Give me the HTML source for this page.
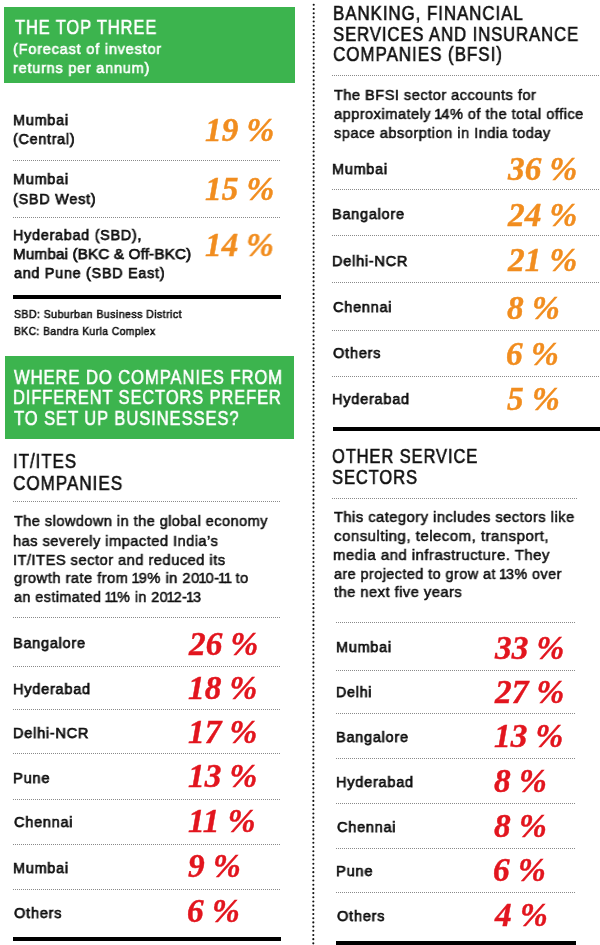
<!DOCTYPE html>
<html><head><meta charset="utf-8"><style>
html,body{margin:0;padding:0;background:#fff;width:600px;height:945px;overflow:hidden}
body{position:relative}
.t{position:absolute;white-space:nowrap;will-change:transform}
.o{margin:0 -0.1em}
.hd{position:absolute;height:1px;background:repeating-linear-gradient(90deg,#8a8a8a 0 1px,transparent 1px 2px)}
.vd{position:absolute;width:2px;background:repeating-linear-gradient(180deg,#111 0 2px,transparent 2px 4.2px)}
</style></head><body>
<div style="position:absolute;left:4px;top:7px;width:290.5px;height:75.7px;background:#3cb44e"></div>
<div style="position:absolute;left:4.5px;top:356.25px;width:289.75px;height:83px;background:#3cb44e"></div>
<div class="hd" style="left:12.5px;top:160.0px;width:268.5px"></div>
<div class="hd" style="left:12.5px;top:216.5px;width:268.5px"></div>
<div class="hd" style="left:12.5px;top:501.0px;width:268.5px"></div>
<div class="hd" style="left:12.5px;top:617.0px;width:268.5px"></div>
<div class="hd" style="left:12.5px;top:665.6px;width:268.5px"></div>
<div class="hd" style="left:12.5px;top:709.4px;width:268.5px"></div>
<div class="hd" style="left:12.5px;top:753.4px;width:268.5px"></div>
<div class="hd" style="left:12.5px;top:799.1px;width:268.5px"></div>
<div class="hd" style="left:12.5px;top:844.2px;width:268.5px"></div>
<div class="hd" style="left:12.5px;top:888.5px;width:268.5px"></div>
<div style="position:absolute;left:13px;top:295px;width:268px;height:4.25px;background:#000"></div>
<div style="position:absolute;left:13px;top:936.5px;width:268px;height:4.2px;background:#000"></div>
<svg style="position:absolute;left:0;top:0" width="600" height="945" fill="#111"><circle cx="313.70" cy="4.80" r="1.05"/><circle cx="313.70" cy="8.99" r="1.05"/><circle cx="313.70" cy="13.18" r="1.05"/><circle cx="313.69" cy="17.37" r="1.05"/><circle cx="313.69" cy="21.56" r="1.05"/><circle cx="313.69" cy="25.75" r="1.05"/><circle cx="313.69" cy="29.94" r="1.05"/><circle cx="313.69" cy="34.13" r="1.05"/><circle cx="313.69" cy="38.32" r="1.05"/><circle cx="313.68" cy="42.51" r="1.05"/><circle cx="313.68" cy="46.70" r="1.05"/><circle cx="313.68" cy="50.89" r="1.05"/><circle cx="313.68" cy="55.08" r="1.05"/><circle cx="313.68" cy="59.27" r="1.05"/><circle cx="313.68" cy="63.46" r="1.05"/><circle cx="313.67" cy="67.65" r="1.05"/><circle cx="313.67" cy="71.84" r="1.05"/><circle cx="313.67" cy="76.03" r="1.05"/><circle cx="313.67" cy="80.22" r="1.05"/><circle cx="313.67" cy="84.41" r="1.05"/><circle cx="313.66" cy="88.60" r="1.05"/><circle cx="313.66" cy="92.79" r="1.05"/><circle cx="313.66" cy="96.98" r="1.05"/><circle cx="313.66" cy="101.17" r="1.05"/><circle cx="313.66" cy="105.36" r="1.05"/><circle cx="313.66" cy="109.55" r="1.05"/><circle cx="313.65" cy="113.74" r="1.05"/><circle cx="313.65" cy="117.93" r="1.05"/><circle cx="313.65" cy="122.12" r="1.05"/><circle cx="313.65" cy="126.31" r="1.05"/><circle cx="313.65" cy="130.50" r="1.05"/><circle cx="313.64" cy="134.69" r="1.05"/><circle cx="313.64" cy="138.88" r="1.05"/><circle cx="313.64" cy="143.07" r="1.05"/><circle cx="313.64" cy="147.26" r="1.05"/><circle cx="313.64" cy="151.45" r="1.05"/><circle cx="313.64" cy="155.64" r="1.05"/><circle cx="313.63" cy="159.83" r="1.05"/><circle cx="313.63" cy="164.02" r="1.05"/><circle cx="313.63" cy="168.21" r="1.05"/><circle cx="313.63" cy="172.40" r="1.05"/><circle cx="313.63" cy="176.59" r="1.05"/><circle cx="313.63" cy="180.78" r="1.05"/><circle cx="313.62" cy="184.97" r="1.05"/><circle cx="313.62" cy="189.16" r="1.05"/><circle cx="313.62" cy="193.35" r="1.05"/><circle cx="313.62" cy="197.54" r="1.05"/><circle cx="313.62" cy="201.73" r="1.05"/><circle cx="313.61" cy="205.92" r="1.05"/><circle cx="313.61" cy="210.11" r="1.05"/><circle cx="313.61" cy="214.30" r="1.05"/><circle cx="313.61" cy="218.49" r="1.05"/><circle cx="313.61" cy="222.68" r="1.05"/><circle cx="313.61" cy="226.87" r="1.05"/><circle cx="313.60" cy="231.06" r="1.05"/><circle cx="313.60" cy="235.25" r="1.05"/><circle cx="313.60" cy="239.44" r="1.05"/><circle cx="313.60" cy="243.63" r="1.05"/><circle cx="313.60" cy="247.82" r="1.05"/><circle cx="313.60" cy="252.01" r="1.05"/><circle cx="313.59" cy="256.20" r="1.05"/><circle cx="313.59" cy="260.39" r="1.05"/><circle cx="313.59" cy="264.58" r="1.05"/><circle cx="313.59" cy="268.77" r="1.05"/><circle cx="313.59" cy="272.96" r="1.05"/><circle cx="313.58" cy="277.15" r="1.05"/><circle cx="313.58" cy="281.34" r="1.05"/><circle cx="313.58" cy="285.53" r="1.05"/><circle cx="313.58" cy="289.72" r="1.05"/><circle cx="313.58" cy="293.91" r="1.05"/><circle cx="313.58" cy="298.10" r="1.05"/><circle cx="313.57" cy="302.29" r="1.05"/><circle cx="313.57" cy="306.48" r="1.05"/><circle cx="313.57" cy="310.67" r="1.05"/><circle cx="313.57" cy="314.86" r="1.05"/><circle cx="313.57" cy="319.05" r="1.05"/><circle cx="313.56" cy="323.24" r="1.05"/><circle cx="313.56" cy="327.43" r="1.05"/><circle cx="313.56" cy="331.62" r="1.05"/><circle cx="313.56" cy="335.81" r="1.05"/><circle cx="313.56" cy="340.00" r="1.05"/><circle cx="313.56" cy="344.19" r="1.05"/><circle cx="313.55" cy="348.38" r="1.05"/><circle cx="313.55" cy="352.57" r="1.05"/><circle cx="313.55" cy="356.76" r="1.05"/><circle cx="313.55" cy="360.95" r="1.05"/><circle cx="313.55" cy="365.14" r="1.05"/><circle cx="313.55" cy="369.33" r="1.05"/><circle cx="313.54" cy="373.52" r="1.05"/><circle cx="313.54" cy="377.71" r="1.05"/><circle cx="313.54" cy="381.90" r="1.05"/><circle cx="313.54" cy="386.09" r="1.05"/><circle cx="313.54" cy="390.28" r="1.05"/><circle cx="313.53" cy="394.47" r="1.05"/><circle cx="313.53" cy="398.66" r="1.05"/><circle cx="313.53" cy="402.85" r="1.05"/><circle cx="313.53" cy="407.04" r="1.05"/><circle cx="313.53" cy="411.23" r="1.05"/><circle cx="313.53" cy="415.42" r="1.05"/><circle cx="313.52" cy="419.61" r="1.05"/><circle cx="313.52" cy="423.80" r="1.05"/><circle cx="313.52" cy="427.99" r="1.05"/><circle cx="313.52" cy="432.18" r="1.05"/><circle cx="313.52" cy="436.37" r="1.05"/><circle cx="313.52" cy="440.56" r="1.05"/><circle cx="313.51" cy="444.75" r="1.05"/><circle cx="313.51" cy="448.94" r="1.05"/><circle cx="313.51" cy="453.13" r="1.05"/><circle cx="313.51" cy="457.32" r="1.05"/><circle cx="313.51" cy="461.51" r="1.05"/><circle cx="313.50" cy="465.70" r="1.05"/><circle cx="313.50" cy="469.89" r="1.05"/><circle cx="313.50" cy="474.08" r="1.05"/><circle cx="313.50" cy="478.27" r="1.05"/><circle cx="313.50" cy="482.46" r="1.05"/><circle cx="313.50" cy="486.65" r="1.05"/><circle cx="313.49" cy="490.84" r="1.05"/><circle cx="313.49" cy="495.03" r="1.05"/><circle cx="313.49" cy="499.22" r="1.05"/><circle cx="313.49" cy="503.41" r="1.05"/><circle cx="313.49" cy="507.60" r="1.05"/><circle cx="313.48" cy="511.79" r="1.05"/><circle cx="313.48" cy="515.98" r="1.05"/><circle cx="313.48" cy="520.17" r="1.05"/><circle cx="313.48" cy="524.36" r="1.05"/><circle cx="313.48" cy="528.55" r="1.05"/><circle cx="313.48" cy="532.74" r="1.05"/><circle cx="313.47" cy="536.93" r="1.05"/><circle cx="313.47" cy="541.12" r="1.05"/><circle cx="313.47" cy="545.31" r="1.05"/><circle cx="313.47" cy="549.50" r="1.05"/><circle cx="313.47" cy="553.69" r="1.05"/><circle cx="313.47" cy="557.88" r="1.05"/><circle cx="313.46" cy="562.07" r="1.05"/><circle cx="313.46" cy="566.26" r="1.05"/><circle cx="313.46" cy="570.45" r="1.05"/><circle cx="313.46" cy="574.64" r="1.05"/><circle cx="313.46" cy="578.83" r="1.05"/><circle cx="313.45" cy="583.02" r="1.05"/><circle cx="313.45" cy="587.21" r="1.05"/><circle cx="313.45" cy="591.40" r="1.05"/><circle cx="313.45" cy="595.59" r="1.05"/><circle cx="313.45" cy="599.78" r="1.05"/><circle cx="313.45" cy="603.97" r="1.05"/><circle cx="313.44" cy="608.16" r="1.05"/><circle cx="313.44" cy="612.35" r="1.05"/><circle cx="313.44" cy="616.54" r="1.05"/><circle cx="313.44" cy="620.73" r="1.05"/><circle cx="313.44" cy="624.92" r="1.05"/><circle cx="313.44" cy="629.11" r="1.05"/><circle cx="313.43" cy="633.30" r="1.05"/><circle cx="313.43" cy="637.49" r="1.05"/><circle cx="313.43" cy="641.68" r="1.05"/><circle cx="313.43" cy="645.87" r="1.05"/><circle cx="313.43" cy="650.06" r="1.05"/><circle cx="313.42" cy="654.25" r="1.05"/><circle cx="313.42" cy="658.44" r="1.05"/><circle cx="313.42" cy="662.63" r="1.05"/><circle cx="313.42" cy="666.82" r="1.05"/><circle cx="313.42" cy="671.01" r="1.05"/><circle cx="313.42" cy="675.20" r="1.05"/><circle cx="313.41" cy="679.39" r="1.05"/><circle cx="313.41" cy="683.58" r="1.05"/><circle cx="313.41" cy="687.77" r="1.05"/><circle cx="313.41" cy="691.96" r="1.05"/><circle cx="313.41" cy="696.15" r="1.05"/><circle cx="313.40" cy="700.34" r="1.05"/><circle cx="313.40" cy="704.53" r="1.05"/><circle cx="313.40" cy="708.72" r="1.05"/><circle cx="313.40" cy="712.91" r="1.05"/><circle cx="313.40" cy="717.10" r="1.05"/><circle cx="313.40" cy="721.29" r="1.05"/><circle cx="313.39" cy="725.48" r="1.05"/><circle cx="313.39" cy="729.67" r="1.05"/><circle cx="313.39" cy="733.86" r="1.05"/><circle cx="313.39" cy="738.05" r="1.05"/><circle cx="313.39" cy="742.24" r="1.05"/><circle cx="313.39" cy="746.43" r="1.05"/><circle cx="313.38" cy="750.62" r="1.05"/><circle cx="313.38" cy="754.81" r="1.05"/><circle cx="313.38" cy="759.00" r="1.05"/><circle cx="313.38" cy="763.19" r="1.05"/><circle cx="313.38" cy="767.38" r="1.05"/><circle cx="313.37" cy="771.57" r="1.05"/><circle cx="313.37" cy="775.76" r="1.05"/><circle cx="313.37" cy="779.95" r="1.05"/><circle cx="313.37" cy="784.14" r="1.05"/><circle cx="313.37" cy="788.33" r="1.05"/><circle cx="313.37" cy="792.52" r="1.05"/><circle cx="313.36" cy="796.71" r="1.05"/><circle cx="313.36" cy="800.90" r="1.05"/><circle cx="313.36" cy="805.09" r="1.05"/><circle cx="313.36" cy="809.28" r="1.05"/><circle cx="313.36" cy="813.47" r="1.05"/><circle cx="313.36" cy="817.66" r="1.05"/><circle cx="313.35" cy="821.85" r="1.05"/><circle cx="313.35" cy="826.04" r="1.05"/><circle cx="313.35" cy="830.23" r="1.05"/><circle cx="313.35" cy="834.42" r="1.05"/><circle cx="313.35" cy="838.61" r="1.05"/><circle cx="313.34" cy="842.80" r="1.05"/><circle cx="313.34" cy="846.99" r="1.05"/><circle cx="313.34" cy="851.18" r="1.05"/><circle cx="313.34" cy="855.37" r="1.05"/><circle cx="313.34" cy="859.56" r="1.05"/><circle cx="313.34" cy="863.75" r="1.05"/><circle cx="313.33" cy="867.94" r="1.05"/><circle cx="313.33" cy="872.13" r="1.05"/><circle cx="313.33" cy="876.32" r="1.05"/><circle cx="313.33" cy="880.51" r="1.05"/><circle cx="313.33" cy="884.70" r="1.05"/><circle cx="313.32" cy="888.89" r="1.05"/><circle cx="313.32" cy="893.08" r="1.05"/><circle cx="313.32" cy="897.27" r="1.05"/><circle cx="313.32" cy="901.46" r="1.05"/><circle cx="313.32" cy="905.65" r="1.05"/><circle cx="313.32" cy="909.84" r="1.05"/><circle cx="313.31" cy="914.03" r="1.05"/><circle cx="313.31" cy="918.22" r="1.05"/><circle cx="313.31" cy="922.41" r="1.05"/><circle cx="313.31" cy="926.60" r="1.05"/><circle cx="313.31" cy="930.79" r="1.05"/><circle cx="313.31" cy="934.98" r="1.05"/><circle cx="313.30" cy="939.17" r="1.05"/><circle cx="313.30" cy="943.36" r="1.05"/><circle cx="313.30" cy="947.55" r="1.05"/></svg>
<div class="hd" style="left:332px;top:74.5px;width:268px"></div>
<div class="hd" style="left:332px;top:189.4px;width:268px"></div>
<div class="hd" style="left:332px;top:234.5px;width:268px"></div>
<div class="hd" style="left:332px;top:282.1px;width:268px"></div>
<div class="hd" style="left:332px;top:329.7px;width:268px"></div>
<div class="hd" style="left:332px;top:375.7px;width:268px"></div>
<div class="hd" style="left:332px;top:497.5px;width:244.70000000000005px"></div>
<div style="position:absolute;left:332.6px;top:427px;width:267.4px;height:4.3px;background:#000"></div>
<div class="hd" style="left:335.8px;top:621.5px;width:240.7px"></div>
<div class="hd" style="left:335.8px;top:669.5px;width:240.7px"></div>
<div class="hd" style="left:335.8px;top:713.3px;width:240.7px"></div>
<div class="hd" style="left:335.8px;top:757.5px;width:240.7px"></div>
<div class="hd" style="left:335.8px;top:802.7px;width:240.7px"></div>
<div class="hd" style="left:335.8px;top:847.7px;width:240.7px"></div>
<div class="hd" style="left:335.8px;top:892.1px;width:240.7px"></div>
<div style="position:absolute;left:336px;top:941px;width:240px;height:4px;background:#000"></div>
<div class="t" style="left:14.70px;top:16.82px;line-height:20.3px;color:#fff;font-family:'Liberation Sans', sans-serif;font-size:20.3px;font-weight:400;letter-spacing:1.1px;-webkit-text-stroke:0.6px currentColor;transform:scaleX(0.8121);transform-origin:0 0;">THE TOP THREE</div>
<div class="t" style="left:13.06px;top:40.88px;line-height:15.5px;color:#fff;font-family:'Liberation Sans', sans-serif;font-size:15.5px;font-weight:400;letter-spacing:0.8px;-webkit-text-stroke:0.6px currentColor;transform:scaleX(0.9423);transform-origin:0 0;">(Forecast of investor</div>
<div class="t" style="left:13.06px;top:60.38px;line-height:15.5px;color:#fff;font-family:'Liberation Sans', sans-serif;font-size:15.5px;font-weight:400;letter-spacing:0.8px;-webkit-text-stroke:0.6px currentColor;transform:scaleX(0.9375);transform-origin:0 0;">returns per annum)</div>
<div class="t" style="left:13.07px;top:112.38px;line-height:15.5px;color:#111;font-family:'Liberation Sans', sans-serif;font-size:15.5px;font-weight:400;letter-spacing:0.8px;-webkit-text-stroke:0.75px currentColor;transform:scaleX(0.9310);transform-origin:0 0;">Mumbai</div>
<div class="t" style="left:13.08px;top:131.38px;line-height:15.5px;color:#111;font-family:'Liberation Sans', sans-serif;font-size:15.5px;font-weight:400;letter-spacing:0.8px;-webkit-text-stroke:0.75px currentColor;transform:scaleX(0.9231);transform-origin:0 0;">(Central)</div>
<div class="t" style="left:204.50px;top:112.86px;line-height:33.3px;color:#f18d1f;font-family:'Liberation Serif', serif;font-size:33.3px;font-weight:700;font-style:italic;-webkit-text-stroke:0.45px currentColor;">19 %</div>
<div class="t" style="left:13.07px;top:171.38px;line-height:15.5px;color:#111;font-family:'Liberation Sans', sans-serif;font-size:15.5px;font-weight:400;letter-spacing:0.8px;-webkit-text-stroke:0.75px currentColor;transform:scaleX(0.9310);transform-origin:0 0;">Mumbai</div>
<div class="t" style="left:13.07px;top:190.63px;line-height:15.5px;color:#111;font-family:'Liberation Sans', sans-serif;font-size:15.5px;font-weight:400;letter-spacing:0.8px;-webkit-text-stroke:0.75px currentColor;transform:scaleX(0.9310);transform-origin:0 0;">(SBD West)</div>
<div class="t" style="left:204.50px;top:171.61px;line-height:33.3px;color:#f18d1f;font-family:'Liberation Serif', serif;font-size:33.3px;font-weight:700;font-style:italic;-webkit-text-stroke:0.45px currentColor;">15 %</div>
<div class="t" style="left:13.07px;top:227.38px;line-height:15.5px;color:#111;font-family:'Liberation Sans', sans-serif;font-size:15.5px;font-weight:400;letter-spacing:0.8px;-webkit-text-stroke:0.75px currentColor;transform:scaleX(0.9270);transform-origin:0 0;">Hyderabad (SBD),</div>
<div class="t" style="left:13.02px;top:246.13px;line-height:15.5px;color:#111;font-family:'Liberation Sans', sans-serif;font-size:15.5px;font-weight:400;letter-spacing:0.15px;-webkit-text-stroke:0.75px currentColor;transform:scaleX(0.9833);transform-origin:0 0;">Mumbai (BKC &amp; Off-BKC)</div>
<div class="t" style="left:14.00px;top:264.88px;line-height:15.5px;color:#111;font-family:'Liberation Sans', sans-serif;font-size:15.5px;font-weight:400;letter-spacing:0.8px;-webkit-text-stroke:0.75px currentColor;transform:scaleX(0.9259);transform-origin:0 0;">and Pune (SBD East)</div>
<div class="t" style="left:205.00px;top:228.36px;line-height:33.3px;color:#f18d1f;font-family:'Liberation Serif', serif;font-size:33.3px;font-weight:700;font-style:italic;-webkit-text-stroke:0.45px currentColor;transform:scaleX(0.9926);transform-origin:0 0;">14 %</div>
<div class="t" style="left:13.90px;top:309.29px;line-height:11.0px;color:#111;font-family:'Liberation Sans', sans-serif;font-size:11.0px;font-weight:400;letter-spacing:0.5px;-webkit-text-stroke:0.55px currentColor;transform:scaleX(0.9528);transform-origin:0 0;">SBD: Suburban Business District</div>
<div class="t" style="left:13.90px;top:325.79px;line-height:11.0px;color:#111;font-family:'Liberation Sans', sans-serif;font-size:11.0px;font-weight:400;letter-spacing:0.5px;-webkit-text-stroke:0.55px currentColor;transform:scaleX(0.9316);transform-origin:0 0;">BKC: Bandra Kurla Complex</div>
<div class="t" style="left:13.75px;top:366.57px;line-height:20.3px;color:#fff;font-family:'Liberation Sans', sans-serif;font-size:20.3px;font-weight:400;letter-spacing:1.1px;-webkit-text-stroke:0.6px currentColor;transform:scaleX(0.8198);transform-origin:0 0;">WHERE DO COMPANIES FROM</div>
<div class="t" style="left:12.94px;top:387.32px;line-height:20.3px;color:#fff;font-family:'Liberation Sans', sans-serif;font-size:20.3px;font-weight:400;letter-spacing:1.1px;-webkit-text-stroke:0.6px currentColor;transform:scaleX(0.8117);transform-origin:0 0;">DIFFERENT SECTORS PREFER</div>
<div class="t" style="left:13.75px;top:407.82px;line-height:20.3px;color:#fff;font-family:'Liberation Sans', sans-serif;font-size:20.3px;font-weight:400;letter-spacing:1.1px;-webkit-text-stroke:0.6px currentColor;transform:scaleX(0.8184);transform-origin:0 0;">TO SET UP BUSINESSES?</div>
<div class="t" style="left:13.26px;top:451.42px;line-height:20.3px;color:#111;font-family:'Liberation Sans', sans-serif;font-size:20.3px;font-weight:400;letter-spacing:1.1px;-webkit-text-stroke:0.6px currentColor;transform:scaleX(0.8378);transform-origin:0 0;">IT/ITES</div>
<div class="t" style="left:13.25px;top:472.62px;line-height:20.3px;color:#111;font-family:'Liberation Sans', sans-serif;font-size:20.3px;font-weight:400;letter-spacing:1.1px;-webkit-text-stroke:0.6px currentColor;transform:scaleX(0.8465);transform-origin:0 0;">COMPANIES</div>
<div class="t" style="left:14.00px;top:513.30px;line-height:15.3px;color:#111;font-family:'Liberation Sans', sans-serif;font-size:15.3px;font-weight:400;letter-spacing:0.5px;-webkit-text-stroke:0.55px currentColor;transform:scaleX(0.9478);transform-origin:0 0;">The slowdown in the global economy</div>
<div class="t" style="left:13.04px;top:532.55px;line-height:15.3px;color:#111;font-family:'Liberation Sans', sans-serif;font-size:15.3px;font-weight:400;letter-spacing:0.5px;-webkit-text-stroke:0.55px currentColor;transform:scaleX(0.9554);transform-origin:0 0;">has severely impacted India’s</div>
<div class="t" style="left:13.04px;top:551.55px;line-height:15.3px;color:#111;font-family:'Liberation Sans', sans-serif;font-size:15.3px;font-weight:400;letter-spacing:0.5px;-webkit-text-stroke:0.55px currentColor;transform:scaleX(0.9591);transform-origin:0 0;">IT/ITES sector and reduced its</div>
<div class="t" style="left:14.00px;top:570.30px;line-height:15.3px;color:#111;font-family:'Liberation Sans', sans-serif;font-size:15.3px;font-weight:400;letter-spacing:0.5px;-webkit-text-stroke:0.55px currentColor;transform:scaleX(0.9590);transform-origin:0 0;">growth rate from <span class="o">1</span>9% in 20<span class="o">1</span>0-<span class="o">1</span><span class="o">1</span> to</div>
<div class="t" style="left:14.00px;top:589.05px;line-height:15.3px;color:#111;font-family:'Liberation Sans', sans-serif;font-size:15.3px;font-weight:400;letter-spacing:0.5px;-webkit-text-stroke:0.55px currentColor;transform:scaleX(0.9350);transform-origin:0 0;">an estimated <span class="o">1</span><span class="o">1</span>% in 20<span class="o">1</span>2-<span class="o">1</span>3</div>
<div class="t" style="left:13.07px;top:634.88px;line-height:15.5px;color:#111;font-family:'Liberation Sans', sans-serif;font-size:15.5px;font-weight:400;letter-spacing:0.8px;-webkit-text-stroke:0.75px currentColor;transform:scaleX(0.9342);transform-origin:0 0;">Bangalore</div>
<div class="t" style="left:189.00px;top:626.51px;line-height:33.3px;color:#e2151e;font-family:'Liberation Serif', serif;font-size:33.3px;font-weight:700;font-style:italic;-webkit-text-stroke:0.45px currentColor;">26 %</div>
<div class="t" style="left:13.06px;top:680.68px;line-height:15.5px;color:#111;font-family:'Liberation Sans', sans-serif;font-size:15.5px;font-weight:400;letter-spacing:0.8px;-webkit-text-stroke:0.75px currentColor;transform:scaleX(0.9383);transform-origin:0 0;">Hyderabad</div>
<div class="t" style="left:188.00px;top:671.11px;line-height:33.3px;color:#e2151e;font-family:'Liberation Serif', serif;font-size:33.3px;font-weight:700;font-style:italic;-webkit-text-stroke:0.45px currentColor;">18 %</div>
<div class="t" style="left:13.06px;top:724.58px;line-height:15.5px;color:#111;font-family:'Liberation Sans', sans-serif;font-size:15.5px;font-weight:400;letter-spacing:0.8px;-webkit-text-stroke:0.75px currentColor;transform:scaleX(0.9367);transform-origin:0 0;">Delhi-NCR</div>
<div class="t" style="left:188.00px;top:714.51px;line-height:33.3px;color:#e2151e;font-family:'Liberation Serif', serif;font-size:33.3px;font-weight:700;font-style:italic;-webkit-text-stroke:0.45px currentColor;">17 %</div>
<div class="t" style="left:13.05px;top:769.78px;line-height:15.5px;color:#111;font-family:'Liberation Sans', sans-serif;font-size:15.5px;font-weight:400;letter-spacing:0.8px;-webkit-text-stroke:0.75px currentColor;transform:scaleX(0.9459);transform-origin:0 0;">Pune</div>
<div class="t" style="left:188.00px;top:759.11px;line-height:33.3px;color:#e2151e;font-family:'Liberation Serif', serif;font-size:33.3px;font-weight:700;font-style:italic;-webkit-text-stroke:0.45px currentColor;">13 %</div>
<div class="t" style="left:14.00px;top:814.48px;line-height:15.5px;color:#111;font-family:'Liberation Sans', sans-serif;font-size:15.5px;font-weight:400;letter-spacing:0.8px;-webkit-text-stroke:0.75px currentColor;transform:scaleX(0.9355);transform-origin:0 0;">Chennai</div>
<div class="t" style="left:188.00px;top:803.71px;line-height:33.3px;color:#e2151e;font-family:'Liberation Serif', serif;font-size:33.3px;font-weight:700;font-style:italic;-webkit-text-stroke:0.45px currentColor;">11 %</div>
<div class="t" style="left:13.07px;top:860.18px;line-height:15.5px;color:#111;font-family:'Liberation Sans', sans-serif;font-size:15.5px;font-weight:400;letter-spacing:0.8px;-webkit-text-stroke:0.75px currentColor;transform:scaleX(0.9310);transform-origin:0 0;">Mumbai</div>
<div class="t" style="left:188.00px;top:849.11px;line-height:33.3px;color:#e2151e;font-family:'Liberation Serif', serif;font-size:33.3px;font-weight:700;font-style:italic;-webkit-text-stroke:0.45px currentColor;">9 %</div>
<div class="t" style="left:14.00px;top:904.68px;line-height:15.5px;color:#111;font-family:'Liberation Sans', sans-serif;font-size:15.5px;font-weight:400;letter-spacing:0.8px;-webkit-text-stroke:0.75px currentColor;transform:scaleX(0.9400);transform-origin:0 0;">Others</div>
<div class="t" style="left:187.00px;top:893.71px;line-height:33.3px;color:#e2151e;font-family:'Liberation Serif', serif;font-size:33.3px;font-weight:700;font-style:italic;-webkit-text-stroke:0.45px currentColor;">6 %</div>
<div class="t" style="left:332.91px;top:2.82px;line-height:20.3px;color:#111;font-family:'Liberation Sans', sans-serif;font-size:20.3px;font-weight:400;letter-spacing:1.1px;-webkit-text-stroke:0.6px currentColor;transform:scaleX(0.8352);transform-origin:0 0;">BANKING, FINANCIAL</div>
<div class="t" style="left:332.93px;top:23.57px;line-height:20.3px;color:#111;font-family:'Liberation Sans', sans-serif;font-size:20.3px;font-weight:400;letter-spacing:1.1px;-webkit-text-stroke:0.6px currentColor;transform:scaleX(0.8235);transform-origin:0 0;">SERVICES AND INSURANCE</div>
<div class="t" style="left:332.91px;top:44.07px;line-height:20.3px;color:#111;font-family:'Liberation Sans', sans-serif;font-size:20.3px;font-weight:400;letter-spacing:1.1px;-webkit-text-stroke:0.6px currentColor;transform:scaleX(0.8405);transform-origin:0 0;">COMPANIES (BFSI)</div>
<div class="t" style="left:333.50px;top:87.05px;line-height:15.3px;color:#111;font-family:'Liberation Sans', sans-serif;font-size:15.3px;font-weight:400;letter-spacing:0.5px;-webkit-text-stroke:0.55px currentColor;transform:scaleX(0.9540);transform-origin:0 0;">The BFSI sector accounts for</div>
<div class="t" style="left:333.50px;top:105.80px;line-height:15.3px;color:#111;font-family:'Liberation Sans', sans-serif;font-size:15.3px;font-weight:400;letter-spacing:0.5px;-webkit-text-stroke:0.55px currentColor;transform:scaleX(0.9540);transform-origin:0 0;">approximately <span class="o">1</span>4% of the total office</div>
<div class="t" style="left:333.50px;top:124.55px;line-height:15.3px;color:#111;font-family:'Liberation Sans', sans-serif;font-size:15.3px;font-weight:400;letter-spacing:0.5px;-webkit-text-stroke:0.55px currentColor;transform:scaleX(0.9537);transform-origin:0 0;">space absorption in India today</div>
<div class="t" style="left:332.27px;top:160.68px;line-height:15.5px;color:#111;font-family:'Liberation Sans', sans-serif;font-size:15.5px;font-weight:400;letter-spacing:0.8px;-webkit-text-stroke:0.75px currentColor;transform:scaleX(0.9310);transform-origin:0 0;">Mumbai</div>
<div class="t" style="left:508.00px;top:152.41px;line-height:33.3px;color:#f18d1f;font-family:'Liberation Serif', serif;font-size:33.3px;font-weight:700;font-style:italic;-webkit-text-stroke:0.45px currentColor;">36 %</div>
<div class="t" style="left:332.27px;top:206.48px;line-height:15.5px;color:#111;font-family:'Liberation Sans', sans-serif;font-size:15.5px;font-weight:400;letter-spacing:0.8px;-webkit-text-stroke:0.75px currentColor;transform:scaleX(0.9342);transform-origin:0 0;">Bangalore</div>
<div class="t" style="left:508.00px;top:197.91px;line-height:33.3px;color:#f18d1f;font-family:'Liberation Serif', serif;font-size:33.3px;font-weight:700;font-style:italic;-webkit-text-stroke:0.45px currentColor;">24 %</div>
<div class="t" style="left:332.26px;top:252.98px;line-height:15.5px;color:#111;font-family:'Liberation Sans', sans-serif;font-size:15.5px;font-weight:400;letter-spacing:0.8px;-webkit-text-stroke:0.75px currentColor;transform:scaleX(0.9367);transform-origin:0 0;">Delhi-NCR</div>
<div class="t" style="left:508.00px;top:243.31px;line-height:33.3px;color:#f18d1f;font-family:'Liberation Serif', serif;font-size:33.3px;font-weight:700;font-style:italic;-webkit-text-stroke:0.45px currentColor;">21 %</div>
<div class="t" style="left:333.20px;top:298.88px;line-height:15.5px;color:#111;font-family:'Liberation Sans', sans-serif;font-size:15.5px;font-weight:400;letter-spacing:0.8px;-webkit-text-stroke:0.75px currentColor;transform:scaleX(0.9355);transform-origin:0 0;">Chennai</div>
<div class="t" style="left:507.00px;top:291.01px;line-height:33.3px;color:#f18d1f;font-family:'Liberation Serif', serif;font-size:33.3px;font-weight:700;font-style:italic;-webkit-text-stroke:0.45px currentColor;">8 %</div>
<div class="t" style="left:333.20px;top:345.28px;line-height:15.5px;color:#111;font-family:'Liberation Sans', sans-serif;font-size:15.5px;font-weight:400;letter-spacing:0.8px;-webkit-text-stroke:0.75px currentColor;transform:scaleX(0.9400);transform-origin:0 0;">Others</div>
<div class="t" style="left:506.00px;top:336.51px;line-height:33.3px;color:#f18d1f;font-family:'Liberation Serif', serif;font-size:33.3px;font-weight:700;font-style:italic;-webkit-text-stroke:0.45px currentColor;">6 %</div>
<div class="t" style="left:332.26px;top:391.28px;line-height:15.5px;color:#111;font-family:'Liberation Sans', sans-serif;font-size:15.5px;font-weight:400;letter-spacing:0.8px;-webkit-text-stroke:0.75px currentColor;transform:scaleX(0.9383);transform-origin:0 0;">Hyderabad</div>
<div class="t" style="left:507.00px;top:382.11px;line-height:33.3px;color:#f18d1f;font-family:'Liberation Serif', serif;font-size:33.3px;font-weight:700;font-style:italic;-webkit-text-stroke:0.45px currentColor;">5 %</div>
<div class="t" style="left:332.19px;top:446.12px;line-height:20.3px;color:#111;font-family:'Liberation Sans', sans-serif;font-size:20.3px;font-weight:400;letter-spacing:1.1px;-webkit-text-stroke:0.6px currentColor;transform:scaleX(0.8136);transform-origin:0 0;">OTHER SERVICE</div>
<div class="t" style="left:332.18px;top:467.22px;line-height:20.3px;color:#111;font-family:'Liberation Sans', sans-serif;font-size:20.3px;font-weight:400;letter-spacing:1.1px;-webkit-text-stroke:0.6px currentColor;transform:scaleX(0.8155);transform-origin:0 0;">SECTORS</div>
<div class="t" style="left:333.50px;top:509.30px;line-height:15.3px;color:#111;font-family:'Liberation Sans', sans-serif;font-size:15.3px;font-weight:400;letter-spacing:0.5px;-webkit-text-stroke:0.55px currentColor;transform:scaleX(0.9610);transform-origin:0 0;">This category includes sectors like</div>
<div class="t" style="left:333.50px;top:528.05px;line-height:15.3px;color:#111;font-family:'Liberation Sans', sans-serif;font-size:15.3px;font-weight:400;letter-spacing:0.5px;-webkit-text-stroke:0.55px currentColor;transform:scaleX(0.9794);transform-origin:0 0;">consulting, telecom, transport,</div>
<div class="t" style="left:332.52px;top:546.80px;line-height:15.3px;color:#111;font-family:'Liberation Sans', sans-serif;font-size:15.3px;font-weight:400;letter-spacing:0.5px;-webkit-text-stroke:0.55px currentColor;transform:scaleX(0.9762);transform-origin:0 0;">media and infrastructure. They</div>
<div class="t" style="left:333.50px;top:565.80px;line-height:15.3px;color:#111;font-family:'Liberation Sans', sans-serif;font-size:15.3px;font-weight:400;letter-spacing:0.5px;-webkit-text-stroke:0.55px currentColor;transform:scaleX(0.9372);transform-origin:0 0;">are projected to grow at <span class="o">1</span>3% over</div>
<div class="t" style="left:333.50px;top:584.05px;line-height:15.3px;color:#111;font-family:'Liberation Sans', sans-serif;font-size:15.3px;font-weight:400;letter-spacing:0.5px;-webkit-text-stroke:0.55px currentColor;transform:scaleX(0.9586);transform-origin:0 0;">the next five years</div>
<div class="t" style="left:335.87px;top:639.18px;line-height:15.5px;color:#111;font-family:'Liberation Sans', sans-serif;font-size:15.5px;font-weight:400;letter-spacing:0.8px;-webkit-text-stroke:0.75px currentColor;transform:scaleX(0.9310);transform-origin:0 0;">Mumbai</div>
<div class="t" style="left:494.50px;top:630.51px;line-height:33.3px;color:#e2151e;font-family:'Liberation Serif', serif;font-size:33.3px;font-weight:700;font-style:italic;-webkit-text-stroke:0.45px currentColor;">33 %</div>
<div class="t" style="left:335.88px;top:684.08px;line-height:15.5px;color:#111;font-family:'Liberation Sans', sans-serif;font-size:15.5px;font-weight:400;letter-spacing:0.8px;-webkit-text-stroke:0.75px currentColor;transform:scaleX(0.9189);transform-origin:0 0;">Delhi</div>
<div class="t" style="left:494.50px;top:675.11px;line-height:33.3px;color:#e2151e;font-family:'Liberation Serif', serif;font-size:33.3px;font-weight:700;font-style:italic;-webkit-text-stroke:0.45px currentColor;">27 %</div>
<div class="t" style="left:335.87px;top:728.68px;line-height:15.5px;color:#111;font-family:'Liberation Sans', sans-serif;font-size:15.5px;font-weight:400;letter-spacing:0.8px;-webkit-text-stroke:0.75px currentColor;transform:scaleX(0.9342);transform-origin:0 0;">Bangalore</div>
<div class="t" style="left:493.50px;top:719.11px;line-height:33.3px;color:#e2151e;font-family:'Liberation Serif', serif;font-size:33.3px;font-weight:700;font-style:italic;-webkit-text-stroke:0.45px currentColor;">13 %</div>
<div class="t" style="left:335.86px;top:773.68px;line-height:15.5px;color:#111;font-family:'Liberation Sans', sans-serif;font-size:15.5px;font-weight:400;letter-spacing:0.8px;-webkit-text-stroke:0.75px currentColor;transform:scaleX(0.9383);transform-origin:0 0;">Hyderabad</div>
<div class="t" style="left:493.50px;top:763.71px;line-height:33.3px;color:#e2151e;font-family:'Liberation Serif', serif;font-size:33.3px;font-weight:700;font-style:italic;-webkit-text-stroke:0.45px currentColor;">8 %</div>
<div class="t" style="left:336.80px;top:818.63px;line-height:15.5px;color:#111;font-family:'Liberation Sans', sans-serif;font-size:15.5px;font-weight:400;letter-spacing:0.8px;-webkit-text-stroke:0.75px currentColor;transform:scaleX(0.9355);transform-origin:0 0;">Chennai</div>
<div class="t" style="left:493.50px;top:808.51px;line-height:33.3px;color:#e2151e;font-family:'Liberation Serif', serif;font-size:33.3px;font-weight:700;font-style:italic;-webkit-text-stroke:0.45px currentColor;">8 %</div>
<div class="t" style="left:335.85px;top:863.13px;line-height:15.5px;color:#111;font-family:'Liberation Sans', sans-serif;font-size:15.5px;font-weight:400;letter-spacing:0.8px;-webkit-text-stroke:0.75px currentColor;transform:scaleX(0.9459);transform-origin:0 0;">Pune</div>
<div class="t" style="left:492.50px;top:853.31px;line-height:33.3px;color:#e2151e;font-family:'Liberation Serif', serif;font-size:33.3px;font-weight:700;font-style:italic;-webkit-text-stroke:0.45px currentColor;">6 %</div>
<div class="t" style="left:336.80px;top:908.13px;line-height:15.5px;color:#111;font-family:'Liberation Sans', sans-serif;font-size:15.5px;font-weight:400;letter-spacing:0.8px;-webkit-text-stroke:0.75px currentColor;transform:scaleX(0.9400);transform-origin:0 0;">Others</div>
<div class="t" style="left:494.50px;top:898.11px;line-height:33.3px;color:#e2151e;font-family:'Liberation Serif', serif;font-size:33.3px;font-weight:700;font-style:italic;-webkit-text-stroke:0.45px currentColor;">4 %</div>
</body></html>
